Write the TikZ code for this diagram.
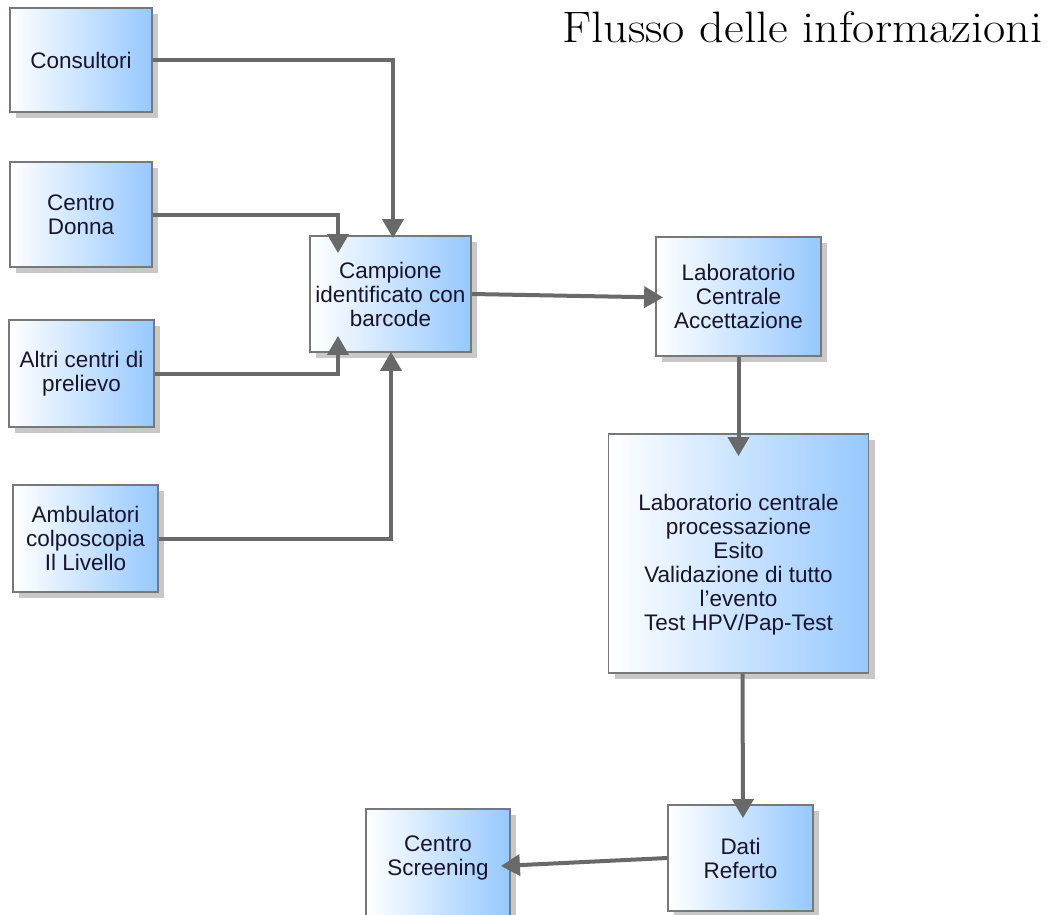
\documentclass[tikz,border=0pt]{standalone}
\usepackage{fontspec}
\setsansfont{Liberation Sans}
\usetikzlibrary{arrows.meta,shadows,calc}
\definecolor{boxblue}{RGB}{150,200,255}
\definecolor{edgegray}{RGB}{120,120,120}
\definecolor{flowgray}{RGB}{105,105,105}
\definecolor{shadowgray}{RGB}{200,200,200}
\definecolor{inktext}{RGB}{25,20,45}
\begin{document}
\begin{tikzpicture}[x=1pt,y=-1pt,
  procbox/.style={draw=edgegray, line width=1.8pt, rectangle, inner sep=0pt,
    left color=white, right color=boxblue, shading angle=90,
    drop shadow={shadow xshift=6pt, shadow yshift=-6pt, fill=shadowgray, opacity=1},
    text=inktext, align=center, font=\sffamily\fontsize{22.5}{24}\selectfont},
  flow/.style={draw=flowgray, line width=4pt,
    -{Triangle[length=19pt,width=21pt]}}]
  \useasboundingbox (0,0) rectangle (1052,914);
  \begin{scope}
  \clip (0,0) rectangle (1052,914);

  % title
  \node[anchor=base west, inner sep=0pt, text=black, xscale=1.1,
        font=\fontsize{44}{50}\selectfont] (title) at (562,42) {Flusso delle informazioni};

  % sources on the left
  \node[procbox, minimum width=142pt, minimum height=104pt] (cons) at (81,60) {Consultori};
  \node[procbox, minimum width=142pt, minimum height=105pt] (donna) at (81,214.5) {Centro\\Donna};
  \node[procbox, minimum width=145pt, minimum height=107pt] (altri) at (81.5,373.5) {Altri centri di\\prelievo};
  \node[procbox, minimum width=145pt, minimum height=107pt] (amb) at (85.5,538.5) {Ambulatori\\colposcopia\\Il Livello};

  % central chain
  \node[procbox, minimum width=161pt, minimum height=116pt] (camp) at (390.5,294) {Campione\\identificato con\\barcode};
  \node[procbox, minimum width=165pt, minimum height=119pt] (lab) at (738.5,296.5) {Laboratorio\\Centrale\\Accettazione};
  \node[procbox, minimum width=260pt, minimum height=239pt] (proc) at (738.5,553.5)
    {\rule{0pt}{38pt}Laboratorio centrale\\processazione\\Esito\\Validazione di tutto\\l'evento\\Test HPV/Pap-Test};
  \node[procbox, minimum width=145pt, minimum height=106pt] (dati) at (740.5,858) {Dati\\Referto};
  \node[procbox, minimum width=144pt, minimum height=110pt] (scr) at (438,864) {Centro\\Screening\\[-8pt]\mbox{}};

  % connectors
  \draw[flow] (cons.east) -| ([xshift=2.5pt,yshift=-3pt]camp.north);
  \draw[flow] (donna.east) -| ([xshift=-52.5pt,yshift=-18pt]camp.north);
  \draw[flow] (altri.east) -| ([xshift=-52.5pt,yshift=17pt]camp.south);
  \draw[flow] (amb.east) -| ([xshift=0.5pt,yshift=1pt]camp.south);
  \draw[flow] (camp.east) -- ([xshift=8pt,yshift=-1pt]lab.west);
  \draw[flow] (lab.south) -- ([yshift=-23pt]proc.north);
  \draw[flow] ([xshift=4pt]proc.south) -- ([xshift=2.5pt,yshift=-14pt]dati.north);
  \draw[flow] (dati.west) -- ([xshift=-10pt,yshift=-2pt]scr.east);
  \end{scope}
\end{tikzpicture}
\end{document}
